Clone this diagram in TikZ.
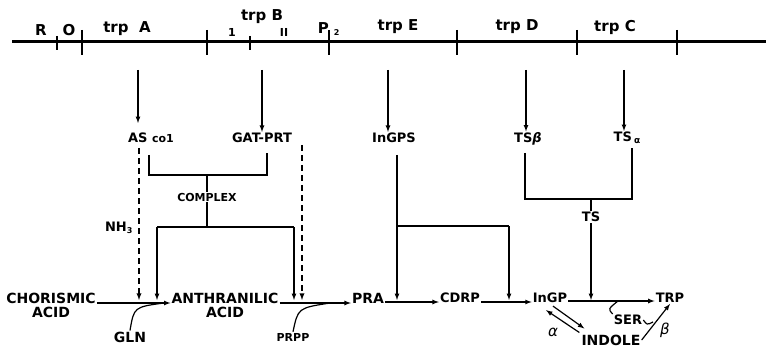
\documentclass[tikz,border=0pt]{standalone}
\usepackage{fontspec}
\setmainfont{DejaVu Sans}
\usetikzlibrary{positioning,arrows}
\tikzstyle{gbox}=[inner sep=1pt, font=\fontsize{15}{15}\selectfont\bfseries]
\tikzstyle{pbox}=[inner sep=1pt, font=\fontsize{14}{14}\selectfont\bfseries]
\tikzstyle{ebox}=[inner sep=1pt, font=\fontsize{13}{13}\selectfont\bfseries]
\tikzstyle{mbox}=[inner sep=1pt, align=center, font=\fontsize{14}{14}\selectfont\bfseries]
\tikzstyle{sbox}=[inner sep=1pt, font=\fontsize{11}{11}\selectfont\bfseries]
\tikzstyle{gkbox}=[inner sep=1pt, font=\fontsize{15}{15}\selectfont\itshape]
\tikzstyle{pline}=[-latex, line width=1.2pt]
\tikzstyle{dline}=[-latex, line width=1.3pt, dash pattern=on 6pt off 4pt]
\tikzstyle{tline}=[line width=1.2pt]
\tikzstyle{chrom}=[line width=3pt]
\tikzstyle{tick}=[line width=1.4pt]

\begin{document}
\begin{tikzpicture}[x=1pt,y=-1pt]
\useasboundingbox (0,0) rectangle (766,350);

% chromosome
   \draw[chrom] (12,42) -- (766,42);
   \foreach \x in {82,207,329,457,577,677}
      \draw[tick] (\x,30) -- (\x,55);
   \foreach \x in {57,250}
      \draw[tick] (\x,36) -- (\x,50);

    \node (r) [gbox] at (41,30) {R};
    \node (o) [gbox] at (69,30) {O};
    \node (ga) [gbox] at (127,29) {trp\ \ A};
    \node (gb) [gbox] at (262,17) {trp B};
    \node (gb1) [sbox] at (232,32) {1};
    \node (gb2) [sbox] at (284,32) {II};
    \node (p2) [gbox] at (329,29) {P\hspace{5pt}\textsubscript{\fontsize{8}{8}\selectfont 2}};
    \node (ge) [gbox] at (398,27) {trp E};
    \node (gd) [gbox] at (517,27) {trp D};
    \node (gc) [gbox] at (615,27) {trp C};

% enzymes
    \node (asc) [ebox] at (151,138) {AS {\fontsize{11}{11}\selectfont co1}};
    \node (gat) [ebox] at (262,138) {GAT-PRT};
    \node (ingps) [ebox] at (394,138) {InGPS};
    \node (tsb) [ebox] at (528,139) {TS{\itshape β}};
    \node (tsa) [ebox] at (627,138) {TS\,\raisebox{-2pt}{\fontsize{9}{9}\selectfont α}};

    \node (cplx) [sbox] at (207,197) {COMPLEX};
    \node (ts) [ebox] at (591,217) {TS};
    \node (nh) [ebox] at (119,228) {NH\textsubscript{\fontsize{8}{8}\selectfont 3}};

% pathway
    \node (cho) [mbox] at (51,305) {CHORISMIC\\ACID};
    \node (ant) [mbox] at (225,305) {ANTHRANILIC\\ACID};
    \node (pra) [pbox] at (368,298) {PRA};
    \node (cdrp) [ebox] at (460,298) {CDRP};
    \node (ingp) [ebox] at (550,298) {InGP};
    \node (trp) [ebox] at (670,298) {TRP};
    \node (gln) [pbox] at (130,337) {GLN};
    \node (prpp) [sbox] at (293,337) {PRPP};
    \node (indole) [pbox] at (611,340) {INDOLE};
    \node (ser) [ebox] at (628,320) {SER};
    \node (al) [gkbox] at (553,332) {α};
    \node (be) [gkbox] at (665,330) {β};

% gene arrows
    \coordinate (ka) at (138,70);
    \coordinate (kb) at (262,70);
    \coordinate (ke) at (388,70);
    \coordinate (kd) at (526,70);
    \coordinate (kc) at (624,70);
   \draw[pline] (ka) -- (138,123);
   \draw[pline] (kb) -- (kb |- gat.north);
   \draw[pline] (ke) -- (ke |- ingps.north);
   \draw[pline] (kd) -- (kd |- tsb.north);
   \draw[pline] (kc) -- (kc |- tsa.north);

% complex lines
   \draw[tline] (149,155) -- (149,175) -- (267,175) -- (267,153);
   \draw[tline] (207,175) -- (cplx.north);
   \draw[tline] (cplx.south) -- (207,227);
   \draw[pline] (157,227) -| (157,300);
   \draw[tline] (157,227) -- (294,227);
   \draw[pline] (294,227) -- (294,300);
   \draw[dline] (139,148) -- (139,300);
   \draw[dline] (302,145) -- (302,300);

   \draw[pline] (397,155) -- (397,300);
   \draw[tline] (397,226) -- (509,226);
   \draw[pline] (509,226) -- (509,300);

   \draw[tline] (525,153) -- (525,199) -- (632,199) -- (632,148);
   \draw[tline] (591,199) -- (ts.north);
   \draw[pline] (ts.south) -- (591,300);

% reactions
   \draw[pline] (cho.east |- 0,303) -- (ant.west |- 0,303);
   \draw[pline] (ant.east |- 0,303) -- (pra.west |- 0,303);
   \draw[pline] (pra.east |- 0,302) -- (cdrp.west |- 0,302);
   \draw[pline] (cdrp.east |- 0,302) -- (ingp.west |- 0,302);
   \draw[pline] (ingp.east |- 0,301) -- (trp.west |- 0,301);
   \draw[tline] (gln.north) .. controls (134,307) .. (164,303);
   \draw[tline] (prpp.north) .. controls (298,308) .. (330,303);
   \draw[pline] ([shift={(3,2)}]ingp.south) -- ([shift={(4,-5)}]indole.north west);
   \draw[pline] ([shift={(-1,-1)}]indole.north west) -- ([shift={(-4,6)}]ingp.south);
   \draw[tline] (618,301) .. controls (608,309) .. (ser.north west);
   \draw[pline] (indole.east) -- (trp.south);
   \draw[tline] (ser.east) .. controls (647,325) .. (653,322);
\end{tikzpicture}
\end{document}
